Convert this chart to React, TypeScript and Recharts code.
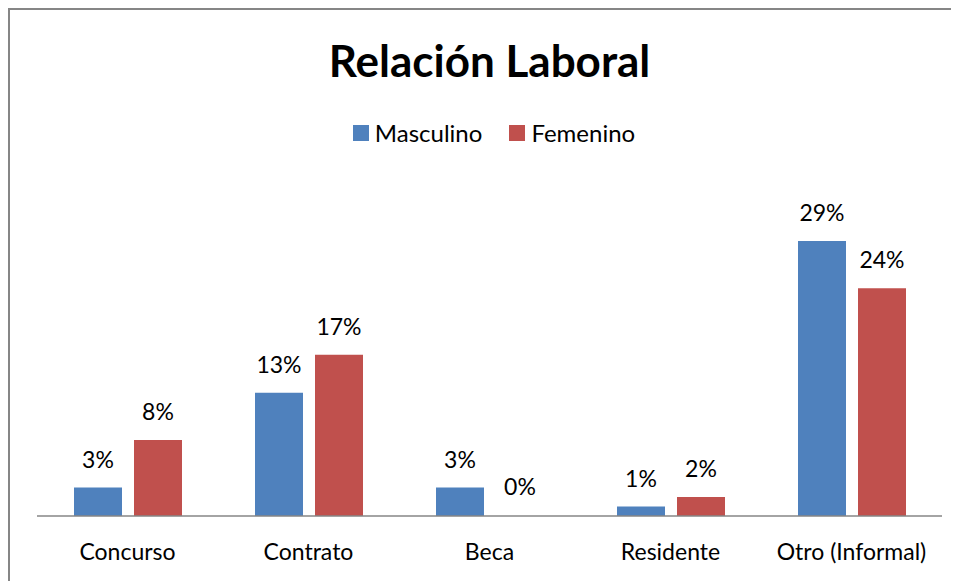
import { Bar, BarChart, Cell, LabelList, Legend, XAxis, YAxis } from "recharts";

const categories = ["Concurso", "Contrato", "Beca", "Residente", "Otro (Informal)"];
const masculino = [3, 13, 3, 1, 29];
const femenino = [8, 17, 0, 2, 24];
const seriesNames = ["Masculino", "Femenino"];

const BLUE = "#4F81BD";
const RED = "#C0504D";
const GREY = "#868686";
const FONT = "Lato, 'Noto Sans', sans-serif";

const data = categories.map((c, i) => ({ name: c, m: masculino[i], f: femenino[i] }));

function LegendBox() {
  const items = [
    { label: seriesNames[0], color: BLUE },
    { label: seriesNames[1], color: RED },
  ];
  return (
    <div style={{ display: "flex", justifyContent: "center", gap: 27, height: 20, paddingLeft: 9, fontFamily: FONT, fontSize: 24, color: "#000" }}>
      {items.map((it) => (
        <div key={it.label} style={{ display: "flex", alignItems: "center", height: 20 }}>
          <span style={{ width: 16, height: 16, background: it.color, marginRight: 6, display: "inline-block" }} />
          <span style={{ lineHeight: "20px" }}>{it.label}</span>
        </div>
      ))}
    </div>
  );
}

const labelStyle = { fill: "#000", fontSize: 23, fontFamily: FONT };

export default function App() {
  return (
    <div style={{ position: "relative", width: 951, height: 573, overflow: "hidden" }}>
      <div style={{ position: "absolute", left: 0, top: 0, width: 1000, height: 620, border: `2px solid ${GREY}`, boxSizing: "border-box" }} />
      <div style={{ position: "absolute", left: 29, top: 30, width: 905, textAlign: "center", fontFamily: FONT, fontWeight: 700, fontSize: 44, lineHeight: "44px", color: "#000" }}>
        Relación Laboral
      </div>
      <BarChart width={951} height={573} data={data} barSize={48} barGap={12}
        margin={{ top: 156, right: 17, bottom: 35, left: 29 }}>
        <Legend verticalAlign="top" content={() => <LegendBox />} wrapperStyle={{ top: 115 }} />
        <XAxis dataKey="name" height={30} axisLine={{ stroke: GREY, strokeWidth: 1.5 }} tickLine={false} tickSize={26}
          tick={{ fill: "#000", fontSize: 23, fontFamily: FONT }} interval={0} />
        <YAxis hide domain={[0, 35]} />
        <Bar dataKey="m" name={seriesNames[0]} fill={BLUE} minPointSize={1} isAnimationActive={false}>
          {masculino.map((v, i) => <Cell key={i} fill={v === 0 ? "transparent" : BLUE} />)}
          <LabelList dataKey="m" position="top" offset={20} formatter={(v: any) => `${v}%`} style={labelStyle} />
        </Bar>
        <Bar dataKey="f" name={seriesNames[1]} fill={RED} minPointSize={1} isAnimationActive={false}>
          {femenino.map((v, i) => <Cell key={i} fill={v === 0 ? "transparent" : RED} />)}
          <LabelList dataKey="f" position="top" offset={20} formatter={(v: any) => `${v}%`} style={labelStyle} />
        </Bar>
      </BarChart>
    </div>
  );
}
